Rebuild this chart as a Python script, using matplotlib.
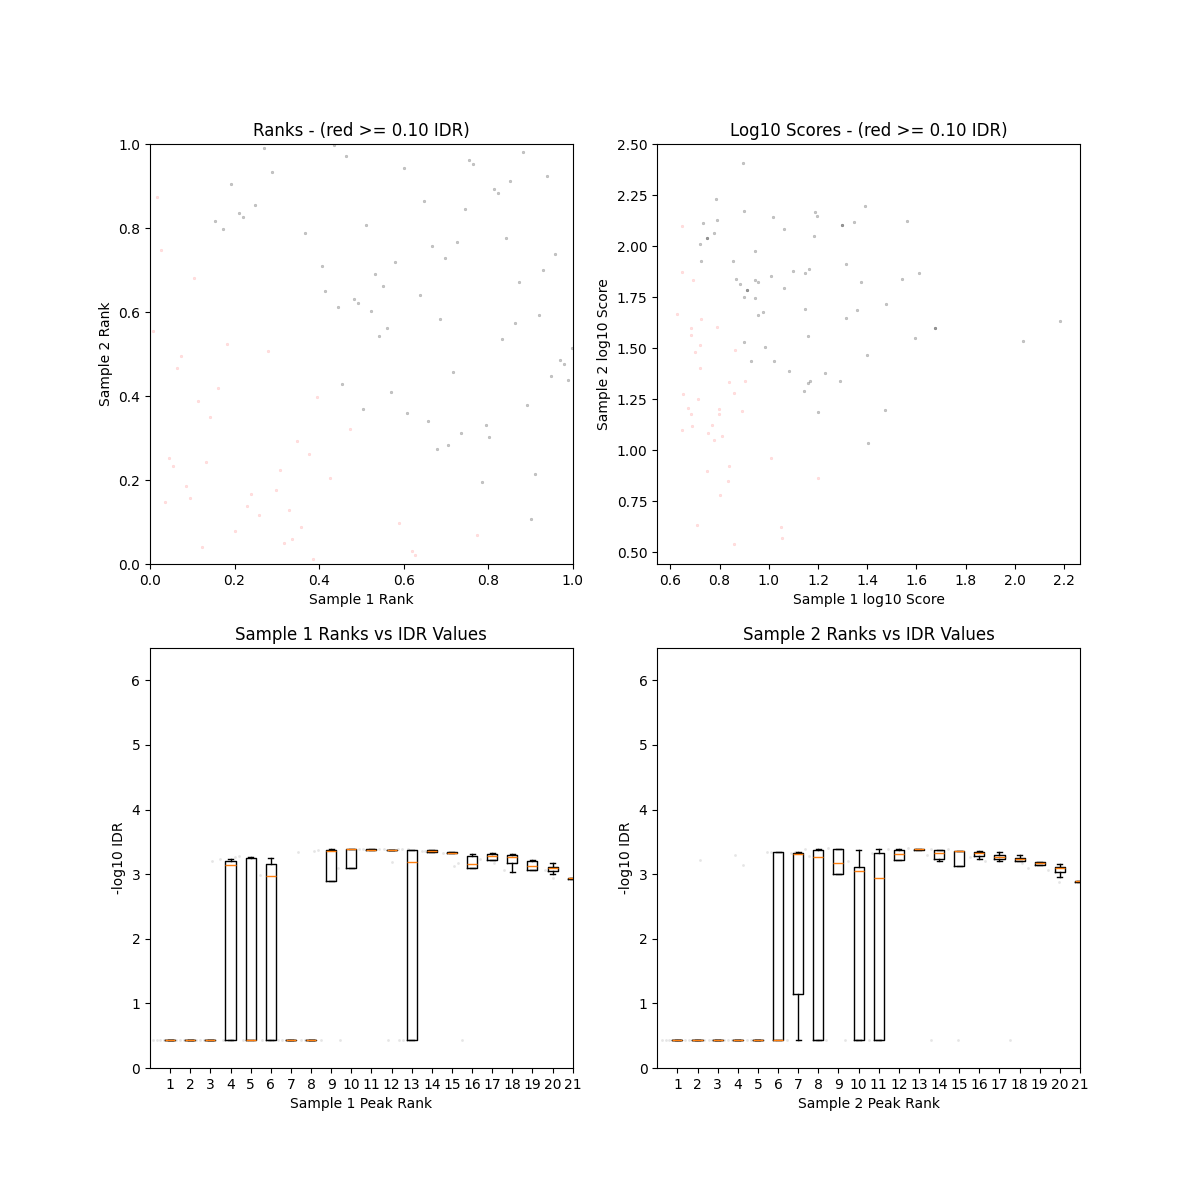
import numpy as np
import matplotlib
matplotlib.use('Agg')
import matplotlib.pyplot as plt

idrThreshold= 0.10
idrLow= 0.433      # -log10 IDR of the peaks that fail the threshold
yMaxIDR= 6.5       # 0.5 - log10(1e-6)

# normalised ranks, peaks passing the threshold (drawn black)
rank1Pass= [0.269, 0.436, 0.464, 0.882, 0.289, 0.600, 0.755, 0.765, 0.192, 0.852,
            0.940, 0.814, 0.823, 0.648, 0.249, 0.746, 0.211, 0.221, 0.153, 0.172,
            0.512, 0.366, 0.843, 0.668, 0.726, 0.959, 0.697, 0.580, 0.406, 0.930,
            0.532, 0.872, 0.551, 0.415, 0.639, 0.483, 0.492, 0.444, 0.522, 0.920,
            0.687, 0.863, 0.560, 0.541, 0.833, 0.998, 0.969, 0.979, 0.716, 0.949,
            0.988, 0.454, 0.571, 0.503, 0.891, 0.609, 0.658, 0.794, 0.736, 0.803,
            0.678, 0.706, 0.911, 0.785, 0.901]
rank2Pass= [0.990, 0.998, 0.971, 0.981, 0.933, 0.942, 0.962, 0.952, 0.904, 0.913,
            0.923, 0.894, 0.884, 0.864, 0.855, 0.845, 0.836, 0.826, 0.817, 0.797,
            0.806, 0.787, 0.777, 0.758, 0.767, 0.738, 0.729, 0.719, 0.709, 0.699,
            0.690, 0.671, 0.661, 0.651, 0.641, 0.632, 0.622, 0.613, 0.602, 0.593,
            0.583, 0.573, 0.563, 0.544, 0.535, 0.515, 0.486, 0.476, 0.457, 0.448,
            0.438, 0.428, 0.409, 0.370, 0.379, 0.360, 0.340, 0.331, 0.312, 0.302,
            0.273, 0.283, 0.214, 0.195, 0.107]
# normalised ranks, peaks failing the threshold (drawn red)
rank1Fail= [0.017, 0.026, 0.104, 0.007, 0.182, 0.279, 0.074, 0.065, 0.162, 0.114,
            0.142, 0.395, 0.473, 0.347, 0.376, 0.046, 0.055, 0.133, 0.308, 0.425,
            0.084, 0.094, 0.298, 0.240, 0.036, 0.230, 0.328, 0.259, 0.357, 0.201,
            0.590, 0.774, 0.337, 0.318, 0.123, 0.619, 0.628, 0.386]
rank2Fail= [0.875, 0.748, 0.680, 0.554, 0.525, 0.506, 0.496, 0.467, 0.418, 0.389,
            0.351, 0.398, 0.321, 0.292, 0.263, 0.253, 0.234, 0.244, 0.224, 0.205,
            0.185, 0.156, 0.176, 0.166, 0.147, 0.137, 0.128, 0.117, 0.089, 0.079,
            0.098, 0.069, 0.060, 0.050, 0.040, 0.030, 0.021, 0.011]

# log10 scores
score1Pass= [0.894, 0.787, 0.901, 0.791, 0.733, 0.778, 0.749, 0.749, 0.719, 0.723,
             1.016, 1.063, 0.943, 0.853, 0.868, 0.883, 0.912, 0.912, 0.898, 0.943,
             0.958, 0.943, 1.008, 1.062, 1.099, 1.149, 1.162, 1.187, 1.198, 1.184,
             1.299, 1.299, 1.348, 1.390, 1.314, 1.562, 1.374, 1.543, 1.612, 0.958,
             0.977, 0.901, 0.983, 0.929, 1.021, 1.082, 1.147, 1.161, 1.314, 1.360,
             1.475, 1.675, 1.675, 1.596, 1.401, 1.229, 1.145, 1.158, 1.169, 1.288,
             1.202, 1.473, 1.405, 2.035, 2.185]
score2Pass= [2.408, 2.230, 2.173, 2.127, 2.111, 2.065, 2.042, 2.042, 2.008, 1.928,
             2.144, 2.085, 1.977, 1.928, 1.839, 1.813, 1.785, 1.785, 1.751, 1.834,
             1.825, 1.746, 1.854, 1.797, 1.880, 1.867, 1.887, 2.165, 2.148, 2.047,
             2.104, 2.104, 2.119, 2.197, 1.910, 2.121, 1.825, 1.839, 1.867, 1.664,
             1.676, 1.532, 1.506, 1.439, 1.435, 1.390, 1.694, 1.560, 1.650, 1.686,
             1.718, 1.599, 1.599, 1.552, 1.465, 1.377, 1.292, 1.331, 1.339, 1.339,
             1.185, 1.198, 1.038, 1.535, 1.632]
score1Fail= [0.646, 0.646, 0.691, 0.627, 0.723, 0.684, 0.684, 0.790, 0.721, 0.702,
             0.864, 0.719, 0.904, 0.838, 0.857, 0.653, 0.711, 0.672, 0.799, 0.891,
             0.684, 0.799, 0.687, 0.768, 0.649, 0.752, 0.810, 0.779, 1.011, 0.749,
             0.840, 1.199, 0.836, 0.801, 0.707, 1.049, 1.055, 0.857]
score2Fail= [2.099, 1.874, 1.833, 1.669, 1.641, 1.601, 1.566, 1.604, 1.516, 1.483,
             1.489, 1.404, 1.341, 1.332, 1.280, 1.274, 1.251, 1.206, 1.203, 1.190,
             1.179, 1.177, 1.120, 1.123, 1.100, 1.085, 1.069, 1.048, 0.961, 0.899,
             0.925, 0.863, 0.848, 0.783, 0.636, 0.624, 0.572, 0.539]

# box statistics of -log10 IDR per rank bin (bins 1..21)
s1Med=    [0.433, 0.433, 0.433, 3.137, 0.433, 2.972, 0.433, 0.433, 3.359, 3.390, 3.380,
           3.375, 3.184, 3.354, 3.333, 3.153, 3.282, 3.261, 3.132, 3.091, 2.936]
s1Q1=     [0.433, 0.433, 0.433, 0.433, 0.433, 0.433, 0.433, 0.433, 2.890, 3.091, 3.375,
           3.370, 0.433, 3.340, 3.325, 3.101, 3.225, 3.179, 3.070, 3.050, 2.930]
s1Q3=     [0.433, 0.433, 0.433, 3.204, 3.251, 3.158, 0.433, 0.433, 3.375, 3.390, 3.385,
           3.380, 3.375, 3.370, 3.340, 3.282, 3.313, 3.297, 3.209, 3.117, 2.940]
s1WhisLo= [0.433, 0.433, 0.433, 0.433, 0.433, 0.433, 0.433, 0.433, 2.890, 3.091, 3.375,
           3.370, 0.433, 3.340, 3.325, 3.101, 3.225, 3.029, 3.060, 3.003, 2.930]
s1WhisHi= [0.433, 0.433, 0.433, 3.230, 3.261, 3.251, 0.433, 0.433, 3.385, 3.390, 3.385,
           3.380, 3.375, 3.380, 3.340, 3.313, 3.323, 3.308, 3.220, 3.168, 2.940]

s2Med=    [0.433, 0.433, 0.433, 0.433, 0.433, 0.433, 3.310, 3.261, 3.168, 3.044, 2.936,
           3.313, 3.385, 3.323, 3.359, 3.323, 3.266, 3.230, 3.168, 3.091, 2.890]
s2Q1=     [0.433, 0.433, 0.433, 0.433, 0.433, 0.433, 1.146, 0.433, 3.003, 0.433, 0.433,
           3.215, 3.380, 3.230, 3.122, 3.282, 3.240, 3.209, 3.142, 3.029, 2.885]
s2Q3=     [0.433, 0.433, 0.433, 0.433, 0.433, 3.338, 3.320, 3.375, 3.385, 3.106, 3.323,
           3.375, 3.390, 3.375, 3.359, 3.344, 3.297, 3.251, 3.189, 3.111, 2.895]
s2WhisLo= [0.433, 0.433, 0.433, 0.433, 0.433, 0.433, 0.433, 0.433, 3.003, 0.433, 0.433,
           3.215, 3.380, 3.199, 3.122, 3.230, 3.199, 3.209, 3.142, 2.962, 2.885]
s2WhisHi= [0.433, 0.433, 0.433, 0.433, 0.433, 3.338, 3.349, 3.385, 3.385, 3.369, 3.390,
           3.385, 3.390, 3.375, 3.359, 3.354, 3.338, 3.297, 3.189, 3.158, 2.895]

# passing peaks in the box plots: 20*rank vs -log10 IDR
s1DotX= [3.10, 3.48, 4.22, 4.44, 5.46, 7.37, 8.16, 8.36, 9.32, 10.4, 10.6, 11.4, 11.6,
         12.0, 12.3, 12.5, 12.8, 13.5, 13.65, 14.57, 15.12, 15.3, 16.4, 17.1, 17.6,
         18.2, 19.2, 19.6, 20.0]
s1DotY= [3.20, 3.24, 3.26, 3.28, 2.98, 3.34, 3.36, 3.37, 3.10, 3.385, 3.385, 3.385, 3.385,
         3.19, 3.385, 3.385, 3.385, 3.36, 3.36, 3.33, 3.12, 3.18, 3.23, 3.18, 3.06,
         3.17, 3.06, 3.06, 2.94]
s2DotX= [2.12, 3.86, 4.27, 5.43, 5.65, 6.64, 6.84, 7.33, 7.55, 8.49, 9.49, 10.65, 11.47,
         12.47, 12.8, 13.38, 13.6, 14.45, 15.53, 16.27, 17.27, 18.1, 18.4, 19.4, 19.97]
s2DotY= [3.22, 3.29, 3.14, 3.35, 3.34, 3.32, 3.34, 3.385, 3.28, 3.405, 3.21, 3.32, 3.385,
         3.405, 3.385, 3.30, 3.385, 3.385, 3.27, 3.21, 3.27, 3.17, 3.09, 3.06, 2.88]


def scatterPassFail(ax, xPass, yPass, xFail, yFail):
    ax.scatter(xPass, yPass, s=4, c='k', edgecolors='k', linewidths=0.3, alpha=0.22)
    ax.scatter(xFail, yFail, s=4, c='r', edgecolors='r', linewidths=0.3, alpha=0.12)


def makeBoxplot(ax, i, med, q1, q3, lo, hi, rankFail, dotX, dotY):
    stats= []
    for k in range(len(med)):
        stats.append({'med': med[k], 'q1': q1[k], 'q3': q3[k],
                      'whislo': lo[k], 'whishi': hi[k], 'fliers': [],
                      'label': str(k+1)})
    ax.set_title('Sample %i Ranks vs IDR Values' % i)
    ax.bxp(stats, showfliers=False)
    ax.scatter(20*np.array(rankFail), np.full(len(rankFail), idrLow),
               s=4, c='k', linewidths=0, alpha=0.1)
    ax.scatter(dotX, dotY, s=4, c='k', linewidths=0, alpha=0.1)
    ax.axis([0, 21, 0, yMaxIDR])
    ax.set_xlabel('Sample %i Peak Rank' % i)
    ax.set_ylabel('-log10 IDR')


fig= plt.figure(figsize=(12, 12), dpi=100)

ax= plt.subplot(221)
ax.axis([0, 1, 0, 1])
ax.set_xlabel('Sample 1 Rank')
ax.set_ylabel('Sample 2 Rank')
ax.set_title('Ranks - (red >= %.2f IDR)' % idrThreshold)
scatterPassFail(ax, rank1Pass, rank2Pass, rank1Fail, rank2Fail)

ax= plt.subplot(222)
ax.set_xlabel('Sample 1 log10 Score')
ax.set_ylabel('Sample 2 log10 Score')
ax.set_title('Log10 Scores - (red >= %.2f IDR)' % idrThreshold)
scatterPassFail(ax, score1Pass, score2Pass, score1Fail, score2Fail)
ax.set_xlim(0.547, 2.265)
ax.set_ylim(0.443, 2.5)

ax= plt.subplot(223)
makeBoxplot(ax, 1, s1Med, s1Q1, s1Q3, s1WhisLo, s1WhisHi, rank1Fail, s1DotX, s1DotY)

ax= plt.subplot(224)
makeBoxplot(ax, 2, s2Med, s2Q1, s2Q3, s2WhisLo, s2WhisHi, rank2Fail, s2DotX, s2DotY)

plt.savefig('out.png')
